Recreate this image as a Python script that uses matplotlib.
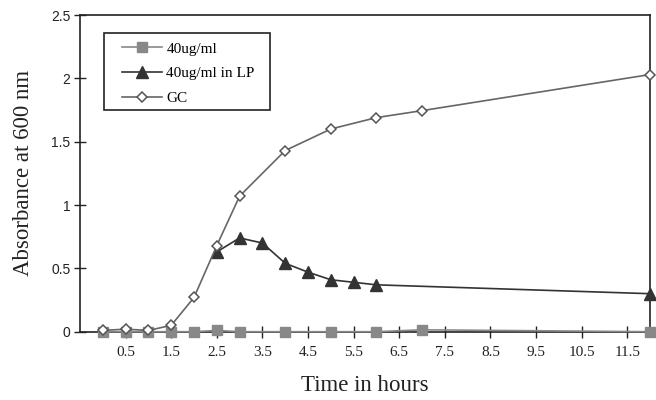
import matplotlib
matplotlib.use("Agg")
import matplotlib.pyplot as plt
from matplotlib.patches import Rectangle

# data
gc_time = [0, 0.5, 1, 1.5, 2, 2.5, 3, 4, 5, 6, 7, 12]
gc_abs = [0.01, 0.02, 0.01, 0.05, 0.27, 0.68, 1.07, 1.43, 1.60, 1.69, 1.745, 2.03]

sq_time = [0, 0.5, 1, 1.5, 2, 2.5, 3, 4, 5, 6, 7, 12]
sq_abs = [0.0, 0.0, 0.0, 0.0, 0.0, 0.01, 0.0, 0.0, 0.0, 0.0, 0.015, 0.0]

lp_time = [2.5, 3, 3.5, 4, 4.5, 5, 5.5, 6, 12]
lp_abs = [0.63, 0.74, 0.70, 0.54, 0.47, 0.41, 0.39, 0.37, 0.30]

x_ticks = [0.5, 1.5, 2.5, 3.5, 4.5, 5.5, 6.5, 7.5, 8.5, 9.5, 10.5, 11.5]
x_ticklabels = ["0.5", "1.5", "2.5", "3.5", "4.5", "5.5", "6.5", "7.5", "8.5", "9.5", "10.5", "11.5"]
y_ticks = [0, 0.5, 1, 1.5, 2, 2.5]
y_ticklabels = ["0", "0.5", "1", "1.5", "2", "2.5"]

serif = "Liberation Serif"
sans = "Liberation Sans"

fig = plt.figure(figsize=(6.56, 4.0), dpi=100)
ax = fig.add_axes([80 / 656, 68.3 / 400, 570 / 656, 316.7 / 400])

ax.plot(sq_time, sq_abs, color="#888888", lw=1.2, marker="s", ms=7,
        mfc="#888888", mec="#888888", label="40ug/ml", zorder=3, clip_on=False)
ax.plot(lp_time, lp_abs, color="#333333", lw=1.2, marker="^", ms=8,
        mfc="#333333", mec="#333333", label="40ug/ml in LP", zorder=4, clip_on=False)
ax.plot(gc_time, gc_abs, color="#666666", lw=1.2, marker="D", ms=5.5,
        mfc="white", mec="#555555", mew=1.1, label="GC", zorder=5, clip_on=False)

ax.set_xlim(-0.5, 12)
ax.set_ylim(0, 2.5)
ax.set_xticks(x_ticks)
ax.set_xticklabels(x_ticklabels, fontfamily=serif, fontsize=11)
ax.set_yticks(y_ticks)
ax.set_yticklabels(y_ticklabels, fontfamily=sans, fontsize=10)
ax.tick_params(axis="both", direction="inout", length=8, width=1, colors="#222222")
ax.tick_params(axis="x", pad=6)
ax.tick_params(axis="y", pad=3)

for s in ax.spines.values():
    s.set_color("#222222")
    s.set_linewidth(1.2)

ax.set_xlabel("Time in hours", fontfamily=serif, fontsize=16.5, labelpad=11.5, color="#222222")
ax.set_ylabel("Absorbance at 600 nm", fontfamily=serif, fontsize=16.5, labelpad=12, color="#222222")

# legend frame
ax.add_patch(Rectangle((0.0421, 0.700), 0.2912, 0.243, transform=ax.transAxes,
                       facecolor="white", edgecolor="#222222", lw=1.2, zorder=6))
leg = ax.legend(loc="upper left", bbox_to_anchor=(0.0737, 0.915), borderaxespad=0,
                prop={"family": serif, "size": 11}, frameon=False,
                handlelength=2.6, labelspacing=0.72,
                borderpad=0, handletextpad=0.3)
leg.set_zorder(7)

fig.savefig("out.png", dpi=100)
